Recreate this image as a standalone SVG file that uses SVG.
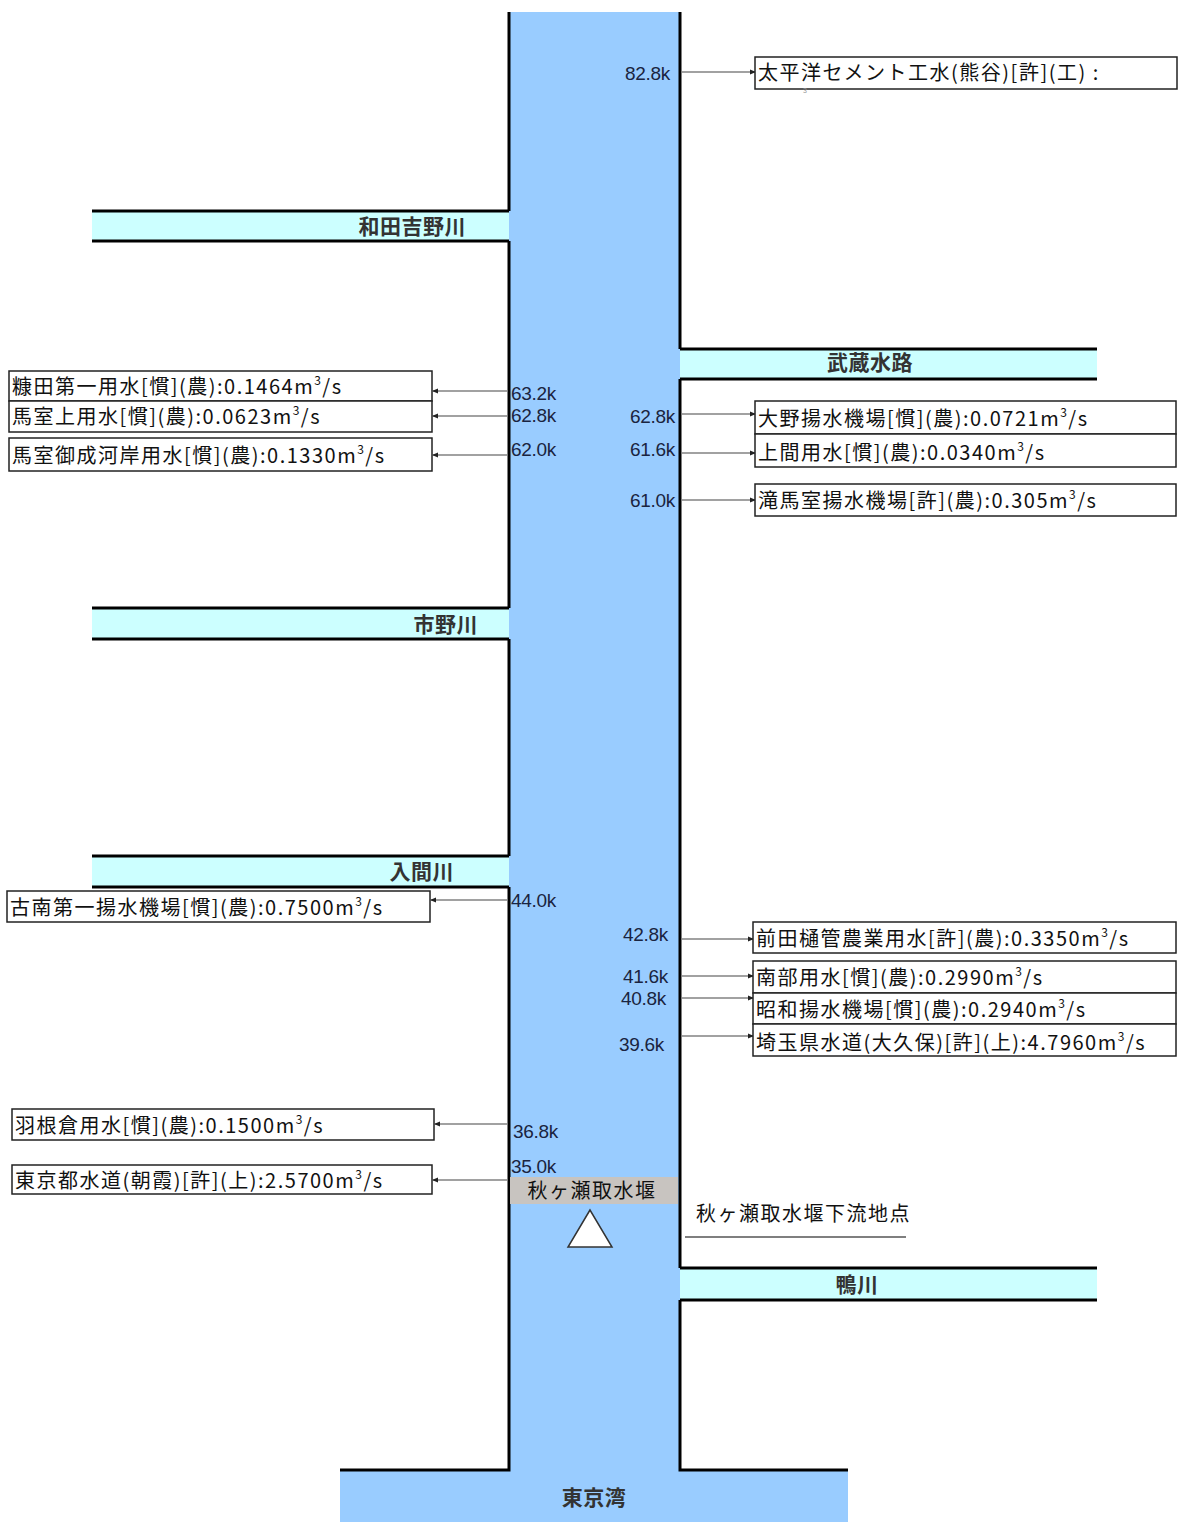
<svg xmlns="http://www.w3.org/2000/svg" width="1178" height="1522" viewBox="0 0 1178 1522">
<defs>
<marker id="ah" markerWidth="6" markerHeight="6" refX="5" refY="3" orient="auto" markerUnits="userSpaceOnUse">
<path d="M0,0.5 L6,3 L0,5.5 Z" fill="#222"/>
</marker>
<style>
.bank{stroke:#000;stroke-width:3;fill:none}
.trib{fill:#ccffff}
.tl{font-family:"Noto Sans CJK JP","Liberation Sans",sans-serif;font-size:21px;font-weight:bold;fill:#333;letter-spacing:0.5px}
.box{fill:#fff;stroke:#222;stroke-width:1.5}
.bt{font-family:"Noto Sans CJK JP","Liberation Sans",sans-serif;font-size:20px;fill:#111;letter-spacing:1.5px}
.km{font-family:"Liberation Sans","Noto Sans CJK JP",sans-serif;font-size:19px;fill:#1a2440;letter-spacing:-0.3px}
.conn{stroke:#444;stroke-width:1.2;fill:none}
.sup{font-size:12px}
.tiny{font-family:"Liberation Sans",sans-serif;font-size:7px;fill:#999}
</style>
</defs>
<rect width="1178" height="1522" fill="#fff"/>
<g id="river">
<rect x="509" y="12" width="171" height="1460" fill="#99ccff"/>
<rect x="340" y="1470" width="508" height="52" fill="#99ccff"/>
</g>
<g id="tributaries">
<g id="wada"><rect class="trib" x="92" y="211" width="417" height="30"/><line class="bank" x1="92" y1="211" x2="509" y2="211"/><line class="bank" x1="92" y1="241" x2="509" y2="241"/><text class="tl" x="466" y="234" text-anchor="end">和田吉野川</text></g>
<g id="ichino"><rect class="trib" x="92" y="608" width="417" height="31"/><line class="bank" x1="92" y1="608" x2="509" y2="608"/><line class="bank" x1="92" y1="639" x2="509" y2="639"/><text class="tl" x="478" y="632" text-anchor="end">市野川</text></g>
<g id="iruma"><rect class="trib" x="92" y="856" width="417" height="31"/><line class="bank" x1="92" y1="856" x2="509" y2="856"/><line class="bank" x1="92" y1="887" x2="509" y2="887"/><text class="tl" x="454" y="879" text-anchor="end">入間川</text></g>
<g id="musashi"><rect class="trib" x="680" y="349" width="417" height="30"/><line class="bank" x1="680" y1="349" x2="1097" y2="349"/><line class="bank" x1="680" y1="379" x2="1097" y2="379"/><text class="tl" x="870" y="370" text-anchor="middle">武蔵水路</text></g>
<g id="kamo"><rect class="trib" x="680" y="1268" width="417" height="32"/><line class="bank" x1="680" y1="1268" x2="1097" y2="1268"/><line class="bank" x1="680" y1="1300" x2="1097" y2="1300"/><text class="tl" x="857" y="1292" text-anchor="middle">鴨川</text></g>
</g>
<g id="banks">
<path class="bank" d="M509,12 V211 M509,241 V608 M509,639 V856 M509,887 V1470 H340"/>
<path class="bank" d="M680,12 V349 M680,379 V1268 M680,1300 V1470 H848"/>
</g>
<g id="weir">
<rect x="510" y="1177" width="168" height="27" fill="#c8c4c0"/>
<text class="bt" x="592" y="1198" text-anchor="middle" fill="#222" letter-spacing="0">秋ヶ瀬取水堰</text>
<polygon points="590,1210 568,1247 612,1247" fill="#fff" stroke="#333" stroke-width="1.5"/>
</g>
<g id="point">
<text class="bt" x="696" y="1221" letter-spacing="1">秋ヶ瀬取水堰下流地点</text>
<line x1="685" y1="1237" x2="906" y2="1237" stroke="#000" stroke-width="1.2"/>
</g>
<g id="tokyobay"><text class="tl" x="594" y="1505" text-anchor="middle">東京湾</text></g>
<g id="connectors">
<line class="conn" x1="682" y1="72" x2="755" y2="72" marker-end="url(#ah)"/>
<line class="conn" x1="507" y1="391" x2="433" y2="391" marker-end="url(#ah)"/>
<line class="conn" x1="507" y1="416" x2="433" y2="416" marker-end="url(#ah)"/>
<line class="conn" x1="507" y1="455" x2="433" y2="455" marker-end="url(#ah)"/>
<line class="conn" x1="682" y1="414" x2="755" y2="414" marker-end="url(#ah)"/>
<line class="conn" x1="682" y1="453" x2="755" y2="453" marker-end="url(#ah)"/>
<line class="conn" x1="682" y1="500" x2="755" y2="500" marker-end="url(#ah)"/>
<line class="conn" x1="507" y1="900" x2="431" y2="900" marker-end="url(#ah)"/>
<line class="conn" x1="682" y1="939" x2="753" y2="939" marker-end="url(#ah)"/>
<line class="conn" x1="682" y1="976" x2="753" y2="976" marker-end="url(#ah)"/>
<line class="conn" x1="682" y1="998" x2="753" y2="998" marker-end="url(#ah)"/>
<line class="conn" x1="682" y1="1036" x2="753" y2="1036" marker-end="url(#ah)"/>
<line class="conn" x1="507" y1="1124" x2="435" y2="1124" marker-end="url(#ah)"/>
<line class="conn" x1="507" y1="1180" x2="433" y2="1180" marker-end="url(#ah)"/>
</g>
<g id="km-labels">
<text class="km" x="670" y="80" text-anchor="end">82.8k</text>
<text class="km" x="511" y="400">63.2k</text>
<text class="km" x="511" y="422">62.8k</text>
<text class="km" x="511" y="456">62.0k</text>
<text class="km" x="675" y="423" text-anchor="end">62.8k</text>
<text class="km" x="675" y="456" text-anchor="end">61.6k</text>
<text class="km" x="675" y="507" text-anchor="end">61.0k</text>
<text class="km" x="511" y="907">44.0k</text>
<text class="km" x="668" y="941" text-anchor="end">42.8k</text>
<text class="km" x="668" y="983" text-anchor="end">41.6k</text>
<text class="km" x="666" y="1005" text-anchor="end">40.8k</text>
<text class="km" x="664" y="1051" text-anchor="end">39.6k</text>
<text class="km" x="513" y="1138">36.8k</text>
<text class="km" x="511" y="1173">35.0k</text>
</g>
<g id="n-taiheiyo"><rect class="box" x="755" y="57" width="422" height="32"/><text class="bt" x="758" y="80">太平洋セメント工水(熊谷)[許](工) :</text><text class="tiny" x="803" y="93">3</text></g>
<g id="n-nukata"><rect class="box" x="9" y="371" width="423" height="30"/><text class="bt" x="12" y="394">糠田第一用水[慣](農):0.1464m<tspan class="sup" dy="-9">3</tspan><tspan dy="9">/s</tspan></text></g>
<g id="n-maromuro-kami"><rect class="box" x="9" y="401" width="423" height="31"/><text class="bt" x="12" y="424">馬室上用水[慣](農):0.0623m<tspan class="sup" dy="-9">3</tspan><tspan dy="9">/s</tspan></text></g>
<g id="n-maromuro-onari"><rect class="box" x="9" y="438" width="423" height="33"/><text class="bt" x="12" y="463">馬室御成河岸用水[慣](農):0.1330m<tspan class="sup" dy="-9">3</tspan><tspan dy="9">/s</tspan></text></g>
<g id="n-ono"><rect class="box" x="755" y="401" width="421" height="33"/><text class="bt" x="758" y="426">大野揚水機場[慣](農):0.0721m<tspan class="sup" dy="-9">3</tspan><tspan dy="9">/s</tspan></text></g>
<g id="n-kamima"><rect class="box" x="755" y="434" width="421" height="33"/><text class="bt" x="758" y="460">上間用水[慣](農):0.0340m<tspan class="sup" dy="-9">3</tspan><tspan dy="9">/s</tspan></text></g>
<g id="n-takimaromuro"><rect class="box" x="755" y="484" width="421" height="32"/><text class="bt" x="758" y="508">滝馬室揚水機場[許](農):0.305m<tspan class="sup" dy="-9">3</tspan><tspan dy="9">/s</tspan></text></g>
<g id="n-konan"><rect class="box" x="7" y="891" width="423" height="31"/><text class="bt" x="10" y="915">古南第一揚水機場[慣](農):0.7500m<tspan class="sup" dy="-9">3</tspan><tspan dy="9">/s</tspan></text></g>
<g id="n-maeda"><rect class="box" x="753" y="922" width="423" height="31"/><text class="bt" x="756" y="946">前田樋管農業用水[許](農):0.3350m<tspan class="sup" dy="-9">3</tspan><tspan dy="9">/s</tspan></text></g>
<g id="n-nanbu"><rect class="box" x="753" y="961" width="423" height="32"/><text class="bt" x="756" y="985">南部用水[慣](農):0.2990m<tspan class="sup" dy="-9">3</tspan><tspan dy="9">/s</tspan></text></g>
<g id="n-showa"><rect class="box" x="753" y="993" width="423" height="31"/><text class="bt" x="756" y="1017">昭和揚水機場[慣](農):0.2940m<tspan class="sup" dy="-9">3</tspan><tspan dy="9">/s</tspan></text></g>
<g id="n-saitama"><rect class="box" x="753" y="1024" width="423" height="32"/><text class="bt" x="756" y="1050">埼玉県水道(大久保)[許](上):4.7960m<tspan class="sup" dy="-9">3</tspan><tspan dy="9">/s</tspan></text></g>
<g id="n-hanekura"><rect class="box" x="12" y="1109" width="422" height="31"/><text class="bt" x="15" y="1133">羽根倉用水[慣](農):0.1500m<tspan class="sup" dy="-9">3</tspan><tspan dy="9">/s</tspan></text></g>
<g id="n-tokyo"><rect class="box" x="12" y="1165" width="420" height="29"/><text class="bt" x="15" y="1188">東京都水道(朝霞)[許](上):2.5700m<tspan class="sup" dy="-9">3</tspan><tspan dy="9">/s</tspan></text></g>
</svg>
